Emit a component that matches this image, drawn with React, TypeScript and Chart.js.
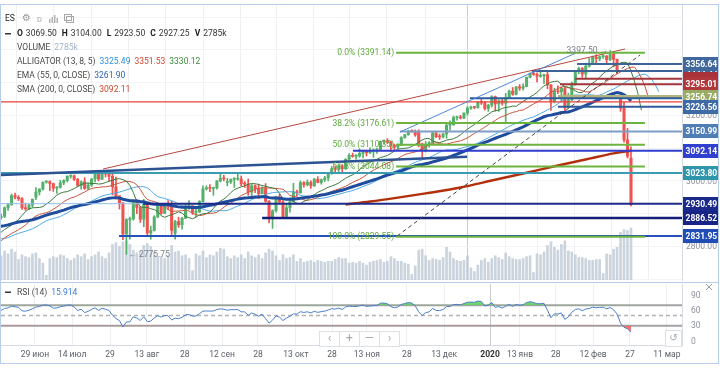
import React, { useEffect, useRef } from 'react';
import { Chart, registerables } from 'chart.js';

Chart.register(...registerables);

// ================= DATA =================
// Daily ES bars [open, high, low, close]. The first PRE bars (3–17 Jun 2019) are history left of the view.
const PRE = 11;

const OHLC_JUN = [
  [2752, 2766, 2728, 2744], [2744, 2806, 2742, 2804], [2804, 2830, 2800, 2827], [2827, 2850, 2818, 2845], [2845, 2880, 2840, 2875],
  [2880, 2905, 2872, 2887], [2887, 2912, 2875, 2886], [2886, 2890, 2868, 2880], [2880, 2895, 2878, 2892], [2892, 2895, 2875, 2888], [2888, 2899, 2883, 2890],
  [2892, 2921, 2888, 2918], [2918, 2930, 2910, 2928], [2928, 2960, 2925, 2955], [2955, 2963, 2945, 2950], [2950, 2955, 2940, 2946],
  [2946, 2949, 2913, 2918], [2918, 2932, 2910, 2915], [2915, 2930, 2912, 2926], [2926, 2945, 2920, 2944],
];
const OHLC_JUL = [
  [2950, 2980, 2943, 2966], [2966, 2976, 2957, 2975], [2975, 2997, 2972, 2996], [2996, 3001, 2993, 2998], [2998, 3000, 2970, 2992],
  [2992, 2993, 2968, 2978], [2978, 2983, 2962, 2980], [2980, 3002, 2978, 2994], [2994, 3004, 2988, 3001], [3001, 3016, 2997, 3014],
  [3014, 3019, 3008, 3015], [3015, 3018, 3001, 3005], [3005, 3008, 2983, 2986], [2986, 3000, 2975, 2997], [2997, 3010, 2974, 2977],
  [2977, 2993, 2974, 2987], [2987, 3007, 2983, 3006], [3006, 3022, 2997, 3020], [3020, 3026, 3000, 3005], [3005, 3029, 3004, 3027],
  [3027, 3028, 3012, 3021], [3021, 3023, 3000, 3014], [3014, 3029, 2957, 2982],
];
const OHLC_AUG = [
  [2982, 3012, 2945, 2954], [2954, 2955, 2914, 2933], [2933, 2934, 2821, 2838], [2838, 2885, 2775.75, 2882], [2882, 2890, 2822, 2884],
  [2884, 2940, 2880, 2938], [2938, 2942, 2900, 2919], [2919, 2922, 2873, 2883], [2883, 2944, 2860, 2928], [2928, 2930, 2836, 2841],
  [2841, 2862, 2822, 2849], [2849, 2894, 2847, 2890], [2890, 2933, 2888, 2925], [2925, 2928, 2898, 2901], [2901, 2928, 2900, 2925],
  [2925, 2940, 2912, 2922], [2922, 2938, 2834, 2849], [2840, 2880, 2822, 2876], [2876, 2889, 2858, 2866], [2866, 2889, 2853, 2886],
  [2886, 2930, 2885, 2922], [2922, 2940, 2913, 2924],
];
const OHLC_SEP = [
  [2924, 2925, 2898, 2904], [2904, 2918, 2891, 2905], [2905, 2940, 2904, 2937], [2937, 2985, 2936, 2976], [2976, 2985, 2972, 2978],
  [2978, 2989, 2967, 2977], [2977, 2981, 2956, 2979], [2979, 3001, 2975, 3000], [3000, 3021, 2997, 3008], [3008, 3017, 3000, 3006],
  [2995, 3008, 2985, 2997], [2997, 3006, 2992, 3005], [3005, 3010, 2980, 3005], [3005, 3020, 3002, 3006], [3006, 3015, 2985, 2991],
  [2991, 2998, 2980, 2990], [2990, 3006, 2956, 2966], [2966, 2990, 2953, 2985], [2985, 2988, 2964, 2976], [2976, 2990, 2946, 2961],
  [2961, 2982, 2960, 2977],
];
const OHLC_OCT = [
  [2977, 2992, 2935, 2938], [2938, 2940, 2872, 2885], [2885, 2912, 2855, 2909], [2909, 2953, 2905, 2951], [2951, 2960, 2932, 2936],
  [2936, 2940, 2891, 2892], [2892, 2930, 2885, 2918], [2918, 2948, 2905, 2937], [2937, 2993, 2935, 2967], [2967, 2972, 2955, 2964],
  [2964, 3000, 2962, 2995], [2995, 2998, 2981, 2988], [2988, 3003, 2985, 2996], [2996, 3000, 2977, 2985], [2985, 3008, 2983, 3005],
  [3005, 3013, 2994, 2995], [2995, 3006, 2990, 3004], [3004, 3014, 2998, 3009], [3009, 3026, 3000, 3022], [3022, 3044, 3020, 3038],
  [3038, 3045, 3028, 3035], [3035, 3050, 3022, 3046], [3046, 3050, 3025, 3037],
];
const OHLC_NOV = [
  [3037, 3068, 3035, 3066], [3066, 3083, 3065, 3078], [3078, 3085, 3072, 3075], [3075, 3080, 3066, 3076], [3076, 3097, 3072, 3084],
  [3084, 3094, 3070, 3093], [3093, 3094, 3076, 3086], [3086, 3101, 3083, 3091], [3091, 3098, 3072, 3094], [3094, 3100, 3084, 3096],
  [3096, 3122, 3095, 3120], [3120, 3125, 3112, 3122], [3122, 3129, 3114, 3119], [3119, 3121, 3090, 3108], [3108, 3112, 3095, 3103],
  [3103, 3113, 3098, 3109], [3109, 3135, 3108, 3132], [3132, 3142, 3130, 3141], [3141, 3155, 3139, 3152], [3152, 3156, 3148, 3150],
  [3150, 3155, 3136, 3140],
];
const OHLC_DEC = [
  [3150, 3156, 3104, 3113], [3113, 3115, 3070, 3092], [3092, 3120, 3088, 3112], [3112, 3120, 3103, 3117], [3117, 3150, 3115, 3146],
  [3146, 3150, 3132, 3135], [3135, 3143, 3126, 3134], [3134, 3145, 3131, 3143], [3143, 3178, 3130, 3170], [3170, 3183, 3155, 3171],
  [3171, 3198, 3170, 3193], [3193, 3198, 3185, 3194], [3194, 3200, 3189, 3192], [3192, 3208, 3190, 3207], [3207, 3227, 3200, 3222],
  [3222, 3228, 3218, 3225], [3225, 3227, 3220, 3224], [3224, 3241, 3222, 3240], [3240, 3249, 3233, 3238], [3238, 3242, 3216, 3221],
  [3221, 3234, 3212, 3231],
];
const OHLC_JAN = [
  [3231, 3260, 3225, 3257], [3257, 3259, 3213, 3235], [3235, 3248, 3212, 3244], [3244, 3250, 3231, 3237], [3237, 3267, 3181, 3253],
  [3253, 3277, 3252, 3274], [3274, 3285, 3261, 3264], [3264, 3288, 3262, 3287], [3287, 3294, 3276, 3283], [3283, 3296, 3277, 3288],
  [3288, 3317, 3287, 3316], [3316, 3330, 3314, 3328], [3328, 3332, 3322, 3325], [3325, 3330, 3302, 3319], [3319, 3337, 3316, 3320],
  [3320, 3326, 3297, 3324], [3324, 3335, 3281, 3293], [3293, 3294, 3215, 3242], [3242, 3283, 3238, 3275], [3275, 3290, 3266, 3272],
  [3272, 3287, 3241, 3282], [3282, 3286, 3214, 3224],
];
const OHLC_FEB = [
  [3224, 3268, 3222, 3247], [3247, 3302, 3245, 3296], [3296, 3337, 3292, 3333], [3333, 3347, 3327, 3343], [3343, 3346, 3316, 3326],
  [3326, 3353, 3315, 3350], [3350, 3374, 3347, 3357], [3357, 3381, 3356, 3378], [3378, 3385, 3357, 3373], [3373, 3381, 3366, 3379],
  [3379, 3385, 3374, 3381], [3381, 3383, 3357, 3370], [3370, 3397.5, 3367, 3386], [3386, 3394, 3348, 3371], [3371, 3372, 3327, 3337],
  [3258, 3262, 3212, 3222], [3222, 3240, 3118, 3125], [3125, 3160, 3070, 3075], [3069.5, 3104, 2923.5, 2927.25],
];

// Volume, thousands of contracts
const VOL_JUN = [2100, 2000, 1700, 1800, 1700, 1500, 1600, 1400, 2300, 2000, 1300, 1550, 1400, 1650, 1500, 1100, 1350, 1250, 1200, 1400];
const VOL_JUL = [1450, 1150, 900, 250, 1150, 1250, 1200, 1350, 1300, 1150, 1050, 1150, 1350, 1250, 1400, 1100, 1250, 1350, 1500, 1250, 1150, 1450, 1900];
const VOL_AUG = [2000, 1800, 2050, 2100, 1900, 1600, 1450, 1500, 1850, 1950, 1800, 1500, 1250, 1250, 1150, 1300, 1850, 1500, 1550, 1300, 1350, 1150];
const VOL_SEP = [500, 1400, 1300, 1550, 1200, 1350, 1300, 1500, 1700, 1650, 1250, 1150, 1300, 1200, 1350, 1150, 1500, 1300, 1200, 1350, 1150];
const VOL_OCT = [1450, 1650, 1550, 1300, 1050, 1350, 1150, 1200, 1350, 1000, 1150, 950, 1000, 1050, 950, 1050, 1000, 950, 1000, 1000, 1100, 1200, 1150];
const VOL_NOV = [1150, 900, 950, 900, 1000, 900, 800, 950, 1000, 1050, 1100, 950, 1000, 1250, 1150, 1000, 1000, 900, 850, 300, 750];
const VOL_DEC = [1600, 1650, 1300, 1050, 1150, 1100, 1050, 1200, 1750, 1500, 1150, 1050, 1000, 1050, 1300, 650, 450, 800, 1050, 1150, 950];
const VOL_JAN = [1150, 1300, 1200, 1100, 1450, 1250, 1150, 1100, 1100, 1150, 1250, 1300, 400, 1400, 1350, 1500, 1850, 2050, 1750, 1600, 1900, 2100];
const VOL_FEB = [1550, 1500, 1350, 1200, 1200, 1150, 1050, 1050, 1100, 1100, 350, 1400, 1350, 1650, 1750, 2550, 2700, 2650, 2785];

// Time axis (bar index of first visible bar = 0)
const TIME_TICKS = [8.7, 19.4, 30.3, 40.9, 51.8, 62.5, 72.8, 83.7, 94.1, 104.1, 115.6, 126.3, 139.5, 148.1, 158.4, 169.1, 179.7, 190.3];
const TIME_LABELS = ['29 июн', '14 июл', '29', '13 авг', '28', '12 сен', '28', '13 окт', '28', '13 ноя', '28', '13 дек', '2020', '13 янв', '28', '12 фев', '27', '11 мар'];
const YEAR_TICK = 139.5;

// Price axis ticks
const PRICE_GRID = [2700, 2800, 2900, 3000, 3100, 3200, 3300, 3400, 3500];
const PRICE_LABELS = [2800, 3000, 3200];
const RSI_LABELS = [0, 30, 60, 90];
const RSI_LEVELS = [70, 50, 30];

// SMA(200) (bar index, value)
const SMA200_IDX = [98, 105, 113, 121, 131, 140, 150, 159, 168, 175, 180];
const SMA200_VAL = [2928, 2937, 2949, 2962, 2980, 3001, 3025, 3047, 3068, 3084, 3092.11];

// Indicator seeds (state before the first bar)
const EMA_SEED = 2862;
const JAW_SEED = 2835;
const TEETH_SEED = 2800;
const LIPS_SEED = 2770;
const RSI_SEED_GAIN = 12;
const RSI_SEED_LOSS = 16;

// Horizontal levels: price, first bar, last bar
const LEVEL_PRICES = [3241.0, 3356.64, 3335.33, 3312.0, 3295.01, 3256.74, 3252.0, 3226.56, 3150.99, 3092.14, 3023.8, 2930.49, 2930.49, 2886.52, 2831.95];
const LEVEL_FROM = [-2, 164.5, 151.5, 164.0, 159.6, 159.0, 133.7, 159.0, 113.6, 100.1, -2, 39.8, -2, 74.0, 32.9];
const LEVEL_TO = [196, 196, 196, 196, 196, 196, 196, 196, 196, 196, 196, 196, 39.8, 196, 196];

// Trend lines: (bar, price) -> (bar, price)
const TREND_X1 = [-1.3, 28.3, 113.6, 112.8];
const TREND_Y1 = [3018, 3036.3, 3149.2, 2831.9];
const TREND_X2 = [132.9, 178.3, 164.8, 182.6];
const TREND_Y2 = [3073.9, 3402.4, 3393.2, 3384];

// Fibonacci retracement
const FIB_HIGH = 3391.14;
const FIB_LOW = 2829.55;
const FIB_RATIOS = [0, 0.382, 0.5, 0.618, 1];
const FIB_FROM = 112.5;
const FIB_TO = 184;

// Price tags on the right axis
const TAG_VALUES = [3335.33, 3356.64, 3312.0, 3295.01, 3256.74, 3226.56, 3150.99, 3092.14, 3023.8, 2930.49, 2886.52, 2831.95];
const TAG_LABELED = [true, true, false, true, true, true, true, true, true, true, true, true];

// Legend values shown in the header
const ALLIGATOR_TEXT = ['3325.49', '3351.53', '3330.12'];
const EMA_TEXT = '3261.90';
const SMA_TEXT = '3092.11';
const RSI_TEXT = '15.914';

// ================= STYLE =================
const FONT = 'Roboto, "Liberation Sans", Arial, sans-serif';
const UP = '#55b06c';
const DOWN = '#ef5350';
const X_MIN = -1.0345;
const X_MAX = 194.66;
const PRICE_MIN = 2697.7;
const PRICE_MAX = 3536.63;
const VOL_MAX = 14728;
const RSI_MIN = -7.84;
const RSI_MAX = 111.76;
const AXIS_W = 38;
const LEVEL_COLORS = ['#e8403a', '#3d6498', '#3d6498', '#a2353a', '#a2353a', '#b2b47c', '#2f5c9c', '#2f5c9c', '#7f9ec6', '#2f3ccf', '#3a9bb2', '#1d2b8a', '#8fbde8', '#141f7c', '#2452b8'];
const LEVEL_WIDTHS = [1.2, 2, 2, 2, 2, 3.5, 2, 2, 2, 2, 2, 2, 1, 2.5, 2];
const TREND_COLORS = ['#2c5393', '#b5483f', '#4f86d8', '#3c4a3c'];
const TREND_WIDTHS = [2.5, 1, 1, 1];
const TREND_DASH = [[], [], [], [4, 3]];
const TAG_COLORS = ['#41689c', '#41689c', '#a8333a', '#b0383c', '#9aab66', '#3e6aa6', '#4f7db5', '#3240d0', '#2f95aa', '#1b2a8a', '#172485', '#1f4db5'];

// ================= DERIVED =================
const OHLC = [...OHLC_JUN, ...OHLC_JUL, ...OHLC_AUG, ...OHLC_SEP, ...OHLC_OCT, ...OHLC_NOV, ...OHLC_DEC, ...OHLC_JAN, ...OHLC_FEB];
const VOLUME = [...VOL_JUN, ...VOL_JUL, ...VOL_AUG, ...VOL_SEP, ...VOL_OCT, ...VOL_NOV, ...VOL_DEC, ...VOL_JAN, ...VOL_FEB];
const CLOSES = OHLC.map((b) => b[3]);
const MEDIANS = OHLC.map((b) => (b[1] + b[2]) / 2);

function smma(src: number[], n: number, seed: number) {
  let v = seed;
  return src.map((s) => (v = (v * (n - 1) + s) / n));
}
function ema(src: number[], n: number, seed: number) {
  const a = 2 / (n + 1);
  let v = seed;
  return src.map((s) => (v = v + a * (s - v)));
}
function rsi(src: number[], n: number, g0: number, l0: number) {
  let g = g0;
  let l = l0;
  return src.map((s, k) => {
    if (k > 0) {
      const d = s - src[k - 1];
      g = (g * (n - 1) + Math.max(d, 0)) / n;
      l = (l * (n - 1) + Math.max(-d, 0)) / n;
    }
    return 100 - 100 / (1 + g / l);
  });
}
const pts = (arr: number[], shift = 0) => arr.map((v, k) => ({ x: k - PRE + shift, y: v }));
const seg = (x1: number, y1: number, x2: number, y2: number) => [{ x: x1, y: y1 }, { x: x2, y: y2 }];

function lineDs(data: any[], color: string, width: number, order: number, extra: any = {}) {
  return { type: 'line', data, borderColor: color, borderWidth: width, pointRadius: 0, fill: false, order, ...extra };
}

function mainConfig(): any {
  const barColors = OHLC.map((b) => (b[3] >= b[0] ? UP : DOWN));
  const jaw = smma(MEDIANS, 13, JAW_SEED);
  const teeth = smma(MEDIANS, 8, TEETH_SEED);
  const lips = smma(MEDIANS, 5, LIPS_SEED);
  const ema55 = ema(CLOSES, 55, EMA_SEED);
  const datasets: any[] = [
    { type: 'bar', yAxisID: 'vol', data: pts(VOLUME), backgroundColor: 'rgba(186,196,210,0.75)', barThickness: 2, grouped: false, borderWidth: 0, order: 100 },
    { type: 'bar', data: OHLC.map((b, k) => ({ x: k - PRE, y: [b[2], b[1]] })), backgroundColor: barColors, barThickness: 1, grouped: false, borderWidth: 0, order: 91 },
    { type: 'bar', data: OHLC.map((b, k) => ({ x: k - PRE, y: [b[0], b[3]] })), backgroundColor: barColors, barThickness: 2.4, minBarLength: 1, grouped: false, borderWidth: 0, order: 90 },
    lineDs(pts(jaw, 8), '#4ea9ec', 1, 82),
    lineDs(pts(teeth, 5), '#c8563c', 1, 81),
    lineDs(pts(lips, 3), '#3d7b3d', 1, 80),
    lineDs(pts(ema55), '#1f4c9c', 3, 75),
    lineDs(SMA200_IDX.map((x, k) => ({ x, y: SMA200_VAL[k] })), '#b3300c', 2.5, 74, { cubicInterpolationMode: 'monotone' }),
  ];
  LEVEL_PRICES.forEach((p, k) => {
    datasets.push(lineDs(seg(LEVEL_FROM[k], p, LEVEL_TO[k], p), LEVEL_COLORS[k], LEVEL_WIDTHS[k], 60 - k * 0.1));
  });
  TREND_X1.forEach((x1, k) => {
    datasets.push(lineDs(seg(x1, TREND_Y1[k], TREND_X2[k], TREND_Y2[k]), TREND_COLORS[k], TREND_WIDTHS[k], 55 - k * 0.1, { borderDash: TREND_DASH[k] }));
  });
  FIB_RATIOS.forEach((r, k) => {
    const p = FIB_HIGH - r * (FIB_HIGH - FIB_LOW);
    datasets.push(lineDs(seg(FIB_FROM, p, FIB_TO, p), '#6db33f', 2, 50 - k * 0.1));
  });

  const annot = {
    id: 'annot',
    afterDatasetsDraw(chart: any) {
      const { ctx, scales } = chart;
      const x = scales.x;
      const y = scales.y;
      ctx.save();
      ctx.textBaseline = 'middle';
      ctx.font = `8.5px ${FONT}`;
      ctx.fillStyle = '#5ea83b';
      ctx.textAlign = 'right';
      FIB_RATIOS.forEach((r) => {
        const p = FIB_HIGH - r * (FIB_HIGH - FIB_LOW);
        ctx.fillText(`${(r * 100).toFixed(1)}% (${(p + 1e-9).toFixed(2)})`, x.getPixelForValue(FIB_FROM) - 2, y.getPixelForValue(p) + 0.5);
      });
      // extremes
      let hi = 0;
      let lo = PRE;
      for (let k = PRE; k < OHLC.length; k++) {
        if (OHLC[k][1] > OHLC[hi][1]) hi = k;
        if (OHLC[k][2] < OHLC[lo][2]) lo = k;
      }
      ctx.fillStyle = '#7b8088';
      ctx.textAlign = 'right';
      ctx.fillText(`${OHLC[hi][1].toFixed(2)} →`, x.getPixelForValue(hi - PRE) - 2, y.getPixelForValue(OHLC[hi][1]));
      ctx.textAlign = 'left';
      ctx.fillText(`← ${OHLC[lo][2].toFixed(2)}`, x.getPixelForValue(lo - PRE) + 2, y.getPixelForValue(OHLC[lo][2]));
      ctx.restore();
    },
  };

  const overlay = {
    id: 'overlay',
    afterDraw(chart: any) {
      const { ctx, scales, chartArea } = chart;
      const y = scales.y;
      ctx.save();
      ctx.textBaseline = 'middle';
      ctx.textAlign = 'left';
      const put = (px: number, py: number, t: string, color: string, bold = false) => {
        ctx.font = `${bold ? 'bold ' : ''}8.5px ${FONT}`;
        ctx.fillStyle = color;
        ctx.fillText(t, px, py);
        return px + ctx.measureText(t).width;
      };
      // toolbar row
      put(5, 19, 'ES', '#222');
      ctx.font = '10px "DejaVu Sans"';
      ctx.fillStyle = '#9a9a9a';
      ctx.fillText('⚙', 22, 18.5);
      ctx.font = `7.5px ${FONT}`;
      ctx.fillStyle = '#a8a8a8';
      ctx.fillText('D', 37, 20);
      ctx.fillStyle = '#b3b3b3';
      [[49, 4], [51.5, 6], [54, 8], [56.5, 5]].forEach(([bx, h]) => ctx.fillRect(bx, 23 - h, 1.5, h));
      ctx.strokeStyle = '#a8a8a8';
      ctx.lineWidth = 1;
      ctx.strokeRect(64.5, 14.5, 7, 6);
      ctx.strokeRect(66.5, 16.5, 7, 6);
      // OHLC row
      ctx.fillStyle = '#333';
      ctx.fillRect(5, 33, 6, 1.5);
      const last = OHLC[OHLC.length - 1];
      let px = 17;
      (['O', 'H', 'L', 'C'] as const).forEach((lab, k) => {
        px = put(px, 33.5, lab, '#222', true) + 3;
        px = put(px, 33.5, last[k].toFixed(2), '#333') + 5;
      });
      px = put(px, 33.5, 'V', '#222', true) + 3;
      put(px, 33.5, `${VOLUME[VOLUME.length - 1]}k`, '#333');
      // indicator rows
      px = put(17, 48, 'VOLUME', '#4a4a4a') + 4;
      put(px, 48, `${VOLUME[VOLUME.length - 1]}k`, '#a3b6cb');
      px = put(17, 62, 'ALLIGATOR (13, 8, 5)', '#4a4a4a') + 4;
      px = put(px, 62, ALLIGATOR_TEXT[0], '#2e8fe0') + 4;
      px = put(px, 62, ALLIGATOR_TEXT[1], '#d2452f') + 4;
      put(px, 62, ALLIGATOR_TEXT[2], '#3f8c3f');
      px = put(17, 76, 'EMA (55, 0, CLOSE)', '#4a4a4a') + 4;
      put(px, 76, EMA_TEXT, '#2e63b4');
      px = put(17, 90, 'SMA (200, 0, CLOSE)', '#4a4a4a') + 4;
      put(px, 90, SMA_TEXT, '#d0452a');
      // price axis labels
      PRICE_LABELS.forEach((v) => put(chartArea.right + 4, y.getPixelForValue(v) + 0.5, v.toFixed(2), '#8d929a'));
      // price tags
      TAG_VALUES.forEach((v, k) => {
        const py = Math.round(y.getPixelForValue(v));
        ctx.fillStyle = TAG_COLORS[k];
        ctx.fillRect(chartArea.right + 1, py - 7, 36, 14);
        if (TAG_LABELED[k]) put(chartArea.right + 3.5, py + 0.5, v.toFixed(2), '#ffffff', true);
      });
      ctx.restore();
    },
  };

  return {
    type: 'bar',
    data: { datasets },
    plugins: [annot, overlay],
    options: {
      responsive: false,
      animation: false,
      devicePixelRatio: 1,
      events: [],
      layout: { padding: { left: 1, right: 0, top: 5, bottom: 2 } },
      plugins: { legend: { display: false }, tooltip: { enabled: false } },
      scales: {
        x: {
          type: 'linear', min: X_MIN, max: X_MAX, offset: false,
          afterBuildTicks: (s: any) => { s.ticks = TIME_TICKS.map((v) => ({ value: v })); },
          afterFit: (s: any) => { s.height = 0; },
          ticks: { display: false },
          grid: { drawTicks: false, color: (c: any) => (c.tick && c.tick.value === YEAR_TICK ? '#c9ccd1' : '#eef0f4') },
          border: { display: false },
        },
        y: {
          type: 'linear', position: 'right', min: PRICE_MIN, max: PRICE_MAX,
          afterBuildTicks: (s: any) => { s.ticks = PRICE_GRID.map((v) => ({ value: v })); },
          afterFit: (s: any) => { s.width = AXIS_W; },
          ticks: { display: false },
          grid: { drawTicks: false, color: '#f3f4f7' },
          border: { display: true, color: '#d7dce3' },
        },
        vol: { type: 'linear', axis: 'y', position: 'left', display: false, min: 0, max: VOL_MAX },
      },
    },
  };
}

function rsiConfig(): any {
  const vals = rsi(CLOSES, 14, RSI_SEED_GAIN, RSI_SEED_LOSS);
  const datasets: any[] = [
    { data: pts(vals), borderColor: '#4c7fc8', borderWidth: 1, pointRadius: 0, order: 1,
      fill: { target: { value: 70 }, above: 'rgba(96,210,96,0.9)', below: 'rgba(0,0,0,0)' } },
    { data: pts(vals), borderColor: 'rgba(0,0,0,0)', borderWidth: 0, pointRadius: 0, order: 2,
      fill: { target: { value: 30 }, above: 'rgba(0,0,0,0)', below: 'rgba(244,100,100,0.9)' } },
  ];
  RSI_LEVELS.forEach((v) => {
    datasets.push({ data: seg(X_MIN, v, X_MAX, v), borderColor: v === 50 ? '#b2b2b2' : '#a3a3a3', borderWidth: v === 50 ? 1.5 : 2,
      borderDash: v === 50 ? [4, 3] : [], pointRadius: 0, fill: false, order: 5 });
  });
  const overlay = {
    id: 'rsiOverlay',
    afterDraw(chart: any) {
      const { ctx, scales, chartArea } = chart;
      const x = scales.x;
      const y = scales.y;
      ctx.save();
      ctx.textBaseline = 'middle';
      ctx.font = `8.5px ${FONT}`;
      // header
      ctx.fillStyle = '#333';
      ctx.fillRect(5, 9.5, 6, 1.5);
      ctx.textAlign = 'left';
      ctx.fillStyle = '#4a4a4a';
      ctx.fillText('RSI (14)', 17, 10.5);
      const w = ctx.measureText('RSI (14)').width;
      ctx.fillStyle = '#3d7dd8';
      ctx.fillText(RSI_TEXT, 17 + w + 4, 10.5);
      // close cross
      ctx.strokeStyle = '#9a9a9a';
      ctx.lineWidth = 1;
      ctx.beginPath();
      ctx.moveTo(706, 2); ctx.lineTo(712, 8); ctx.moveTo(712, 2); ctx.lineTo(706, 8);
      ctx.stroke();
      // axis labels
      ctx.fillStyle = '#8d929a';
      RSI_LABELS.forEach((v) => ctx.fillText(String(v), chartArea.right + 9, y.getPixelForValue(v) + 0.5));
      ctx.textAlign = 'center';
      TIME_LABELS.forEach((t, k) => {
        ctx.font = t === '2020' ? `bold 8.5px ${FONT}` : `8.5px ${FONT}`;
        ctx.fillStyle = t === '2020' ? '#333' : '#5a5f66';
        ctx.fillText(t, x.getPixelForValue(TIME_TICKS[k]), 72.5);
      });
      // navigation buttons
      ctx.fillStyle = 'rgba(255,255,255,0.95)';
      ctx.fillRect(319.5, 49.5, 80, 15);
      ctx.strokeStyle = '#dde1e6';
      ctx.strokeRect(319.5, 49.5, 80, 15);
      [339.5, 359.5, 379.5].forEach((bx) => { ctx.beginPath(); ctx.moveTo(bx, 49.5); ctx.lineTo(bx, 64.5); ctx.stroke(); });
      ctx.fillStyle = '#a3a8ae';
      ctx.font = `12px ${FONT}`;
      ['‹', '+', '—', '›'].forEach((g, k) => ctx.fillText(g, 329.5 + k * 20, 57));
      ctx.fillStyle = 'rgba(255,255,255,0.95)';
      ctx.fillRect(665.5, 48.5, 16, 16);
      ctx.strokeRect(665.5, 48.5, 16, 16);
      ctx.fillStyle = '#a3a8ae';
      ctx.font = '10px "DejaVu Sans"';
      ctx.fillText('↺', 673.5, 56.5);
      ctx.restore();
    },
  };
  return {
    type: 'line',
    data: { datasets },
    plugins: [overlay],
    options: {
      responsive: false,
      animation: false,
      devicePixelRatio: 1,
      events: [],
      layout: { padding: { left: 1, right: 0, top: 2, bottom: 0 } },
      plugins: { legend: { display: false }, tooltip: { enabled: false } },
      scales: {
        x: {
          type: 'linear', min: X_MIN, max: X_MAX, offset: false,
          afterBuildTicks: (s: any) => { s.ticks = TIME_TICKS.map((v) => ({ value: v })); },
          afterFit: (s: any) => { s.height = 26; },
          ticks: { display: false },
          grid: { drawTicks: false, color: (c: any) => (c.tick && c.tick.value === YEAR_TICK ? '#c9ccd1' : '#eef0f4') },
          border: { display: true, color: '#d7dce3' },
        },
        y: {
          type: 'linear', position: 'right', min: RSI_MIN, max: RSI_MAX,
          afterFit: (s: any) => { s.width = AXIS_W; },
          ticks: { display: false },
          grid: { display: false },
          border: { display: true, color: '#d7dce3' },
        },
      },
    },
  };
}

export default function App() {
  const mainRef = useRef<HTMLCanvasElement>(null);
  const rsiRef = useRef<HTMLCanvasElement>(null);
  useEffect(() => {
    document.body.style.margin = '0';
    const c1 = new Chart(mainRef.current as HTMLCanvasElement, mainConfig());
    const c2 = new Chart(rsiRef.current as HTMLCanvasElement, rsiConfig());
    return () => {
      c1.destroy();
      c2.destroy();
    };
  }, []);
  return (
    <div style={{ position: 'relative', width: 720, height: 371, background: '#fff', overflow: 'hidden' }}>
      <canvas ref={mainRef} width={720} height={282} style={{ position: 'absolute', left: 0, top: 0 }} />
      <canvas ref={rsiRef} width={720} height={89} style={{ position: 'absolute', left: 0, top: 282 }} />
      <div style={{ position: 'absolute', left: 0, top: 4, width: 719, height: 360, border: '1px solid #b7cde9', boxSizing: 'border-box', pointerEvents: 'none' }} />
      <div style={{ position: 'absolute', left: 0, top: 282, width: 719, height: 1, background: '#b7cde9' }} />
    </div>
  );
}
